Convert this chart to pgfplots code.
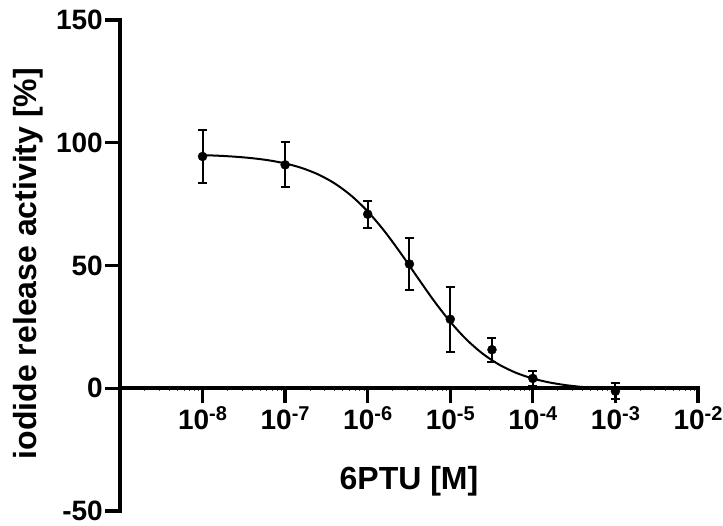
\documentclass[border=0pt]{standalone}
\usepackage{fontspec}
\setmainfont{Liberation Sans}
\usepackage{pgfplots}
\pgfplotsset{compat=1.18}
\newcommand\tl[1]{10\raisebox{9pt}{\fontsize{20}{20}\selectfont\bfseries -#1}}
\begin{document}
\begin{tikzpicture}
\path[use as bounding box] (-120pt,-15pt) rectangle (603pt,511pt);
\begin{axis}[
  at={(0pt,0pt)}, anchor=south west,
  width=578pt, height=491pt, scale only axis,
  xmode=log, log basis x=10,
  xmin=1e-9, xmax=1e-2, ymin=-50, ymax=150,
  axis x line=middle, axis y line=left,
  x axis line style={-}, y axis line style={-},
  axis line style={line width=3.5pt, line cap=rect},
  xtick={1e-8,1e-7,1e-6,1e-5,1e-4,1e-3,1e-2},
  xticklabels={\tl{8},\tl{7},\tl{6},\tl{5},\tl{4},\tl{3},\tl{2}},
  minor xtick={2e-9,3e-9,4e-9,5e-9,6e-9,7e-9,8e-9,9e-9,
    2e-8,3e-8,4e-8,5e-8,6e-8,7e-8,8e-8,9e-8,
    2e-7,3e-7,4e-7,5e-7,6e-7,7e-7,8e-7,9e-7,
    2e-6,3e-6,4e-6,5e-6,6e-6,7e-6,8e-6,9e-6,
    2e-5,3e-5,4e-5,5e-5,6e-5,7e-5,8e-5,9e-5,
    2e-4,3e-4,4e-4,5e-4,6e-4,7e-4,8e-4,9e-4,
    2e-3,3e-3,4e-3,5e-3,6e-3,7e-3,8e-3,9e-3},
  ytick={-50,0,50,100,150},
  yticklabels={-50,0,50,100,150},
  tick align=outside,
  major tick length=15pt,
  minor tick length=5pt,
  major tick style={line width=3.3pt, black},
  every minor tick/.append style={line width=0.8pt, black!70, yshift=2.5pt},
  tick label style={font=\fontsize{28}{28}\selectfont\bfseries},
  yticklabel style={inner xsep=2pt, inner ysep=0pt},
  xticklabel style={inner ysep=3pt},
  xlabel={6PTU [M]},
  ylabel={iodide release activity [\%]},
  label style={font=\fontsize{32}{36}\selectfont\bfseries},
  xlabel style={at={(axis description cs:0.5,0.0445)}, anchor=base},
  ylabel style={at={(axis description cs:-0.1436,0.504)}, anchor=base, rotate=0},
  clip=false,
]
\addplot[black, line width=2pt, smooth] coordinates {
(1e-8,94.96) (1.585e-8,94.70) (2.512e-8,94.30) (3.981e-8,93.71) (6.310e-8,92.85)
(1e-7,91.58) (1.585e-7,89.73) (2.512e-7,87.10) (3.981e-7,83.43) (6.310e-7,78.46)
(1e-6,72.02) (1.585e-6,64.11) (2.512e-6,55.00) (3.981e-6,45.30) (6.310e-6,35.74)
(1e-5,27.06) (1.585e-5,19.72) (2.512e-5,13.88) (3.981e-5,9.46) (6.310e-5,6.24)
(1e-4,3.95) (1.585e-4,2.36) (2.512e-4,1.26) (3.981e-4,0.52) (6.310e-4,0.02)
(1e-3,-0.32)
};
\addplot[black, only marks, mark=*, mark size=4.5pt,
  error bars/.cd, y dir=both, y explicit,
  error bar style={line width=2pt, black},
  error mark options={rotate=90, mark size=4.5pt, line width=2pt, black}]
coordinates {
(1e-8,94.4) +- (0,10.8)
(1e-7,91.0) +- (0,9.2)
(1e-6,70.9) +- (0,5.5)
(3.2e-6,50.6) +- (0,10.6)
(1e-5,28.1) +- (0,13.3)
(3.2e-5,15.7) +- (0,4.9)
(1e-4,4.0) +- (0,3.2)
(1e-3,-1.2) +- (0,3.2)
};
\end{axis}
\end{tikzpicture}
\end{document}
